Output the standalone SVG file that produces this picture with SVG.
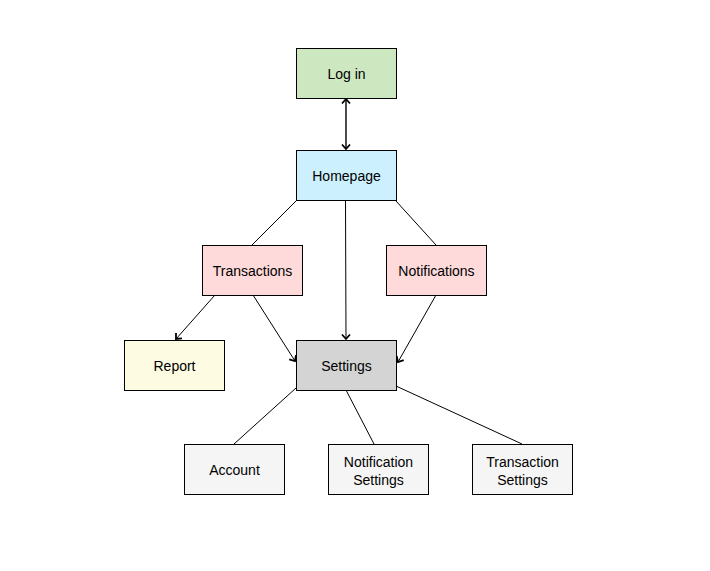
<svg xmlns="http://www.w3.org/2000/svg" width="710" height="571" viewBox="0 0 710 571">
<defs>
<marker id="arr" viewBox="-1 -1 8 10" refX="5" refY="4" markerWidth="8" markerHeight="10" markerUnits="userSpaceOnUse" orient="auto-start-reverse">
<path d="M0.5,0 L5,4 L0.5,8" fill="none" stroke="#000" stroke-width="1.8"/>
</marker>
<style>
.n rect{stroke:#000;stroke-width:1}
.n text{font-family:"Liberation Sans",Arial,sans-serif;font-size:14px;fill:#000;text-anchor:middle}
.c line{stroke:#000;stroke-width:1;fill:none}
.a{marker-end:url(#arr)}
</style>
</defs>
<rect width="710" height="571" fill="#fff"/>
<g class="c" id="connectors">
<line x1="346" y1="99" x2="346" y2="149" class="a" marker-start="url(#arr)" style="stroke-width:1.4"/>
<line x1="296" y1="201" x2="252" y2="245"/>
<line x1="396" y1="201" x2="436" y2="245"/>
<line x1="345.5" y1="200" x2="346" y2="339" class="a"/>
<line x1="215" y1="295" x2="176" y2="339" class="a"/>
<line x1="253" y1="295" x2="295" y2="361" class="a"/>
<line x1="436" y1="295" x2="398" y2="362" class="a"/>
<line x1="296" y1="388" x2="234" y2="444"/>
<line x1="346" y1="390" x2="374" y2="444"/>
<line x1="396" y1="386" x2="522" y2="444"/>
</g>
<g class="n" id="login"><rect x="296.5" y="48.5" width="100" height="50" fill="#cde8c1"/><text x="346.5" y="78.5">Log in</text></g>
<g class="n" id="homepage"><rect x="296.5" y="150.5" width="100" height="50" fill="#ccf0fd"/><text x="346.5" y="180.5">Homepage</text></g>
<g class="n" id="transactions"><rect x="202.5" y="245.5" width="100" height="50" fill="#ffdada"/><text x="252.5" y="275.5">Transactions</text></g>
<g class="n" id="notifications"><rect x="386.5" y="245.5" width="100" height="50" fill="#ffdada"/><text x="436.5" y="275.5">Notifications</text></g>
<g class="n" id="report"><rect x="124.5" y="340.5" width="100" height="50" fill="#fdfbe2"/><text x="174.5" y="370.5">Report</text></g>
<g class="n" id="settings"><rect x="296.5" y="340.5" width="100" height="50" fill="#d4d4d4"/><text x="346.5" y="370.5">Settings</text></g>
<g class="n" id="account"><rect x="184.5" y="444.5" width="100" height="50" fill="#f5f5f5"/><text x="234.5" y="474.5">Account</text></g>
<g class="n" id="notificationSettings"><rect x="328.5" y="444.5" width="100" height="50" fill="#f5f5f5"/><text x="378.5" y="466.5">Notification</text><text x="378.5" y="484.5">Settings</text></g>
<g class="n" id="transactionSettings"><rect x="472.5" y="444.5" width="100" height="50" fill="#f5f5f5"/><text x="522.5" y="466.5">Transaction</text><text x="522.5" y="484.5">Settings</text></g>
</svg>
